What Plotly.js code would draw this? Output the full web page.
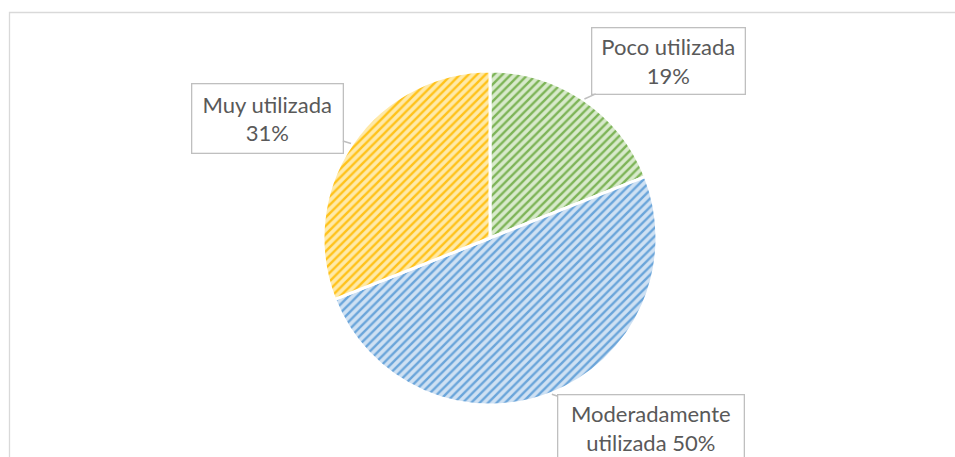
<!DOCTYPE html>
<html>
<head>
<meta charset="utf-8">
<script src="https://cdn.plot.ly/plotly-3.0.1.min.js"></script>
<style>html,body{margin:0;padding:0;background:#fff;}#chart{width:955px;height:457px;}</style>
</head>
<body>
<div id="chart"></div>
<script>
const labels = ["Poco utilizada", "Moderadamente utilizada", "Muy utilizada"];
const values = [19, 50, 31];
const boxText = ["Poco utilizada<br>19%", "Moderadamente<br>utilizada 50%", "Muy utilizada<br>31%"];
const fgColors = ["#7db457", "#6aa5da", "#ffc21a"];
const bgColors = ["#d8eacb", "#cfe1f3", "#ffeaa8"];

const W = 955, H = 457;
const cx = 490, cy = 238, R = 167;

// box centers and sizes (pixels) for the callouts
const boxCenters = [[668, 60.5], [650.5, 428], [267, 118]];
const boxSizes = [[150, 63], [183, 63], [148, 66]];

const total = values.reduce((a, b) => a + b, 0);
let cum = 0;
const annotations = values.map((v, i) => {
  const mid = (cum + v / 2) / total * 2 * Math.PI;
  cum += v;
  const tx = cx + (R + 1) * Math.sin(mid);
  const ty = cy - (R + 1) * Math.cos(mid);
  return {
    x: tx / W, y: 1 - ty / H, xref: "paper", yref: "paper",
    ax: boxCenters[i][0] - tx, ay: boxCenters[i][1] - ty,
    text: boxText[i], showarrow: true, arrowhead: 0, arrowwidth: 1.5,
    arrowcolor: "#bfbfbf", standoff: 0,
    width: boxSizes[i][0], height: boxSizes[i][1],
    bordercolor: "#bfbfbf", borderwidth: 1.3, bgcolor: "#ffffff",
    font: {family: "Lato, 'Noto Sans', sans-serif", size: 22, color: "#595959"},
    align: "center", valign: "middle"
  };
});

const trace = {
  type: "pie", labels: labels, values: values, sort: false,
  direction: "clockwise", rotation: 0, textinfo: "none", hoverinfo: "label+percent",
  domain: {x: [(cx - R) / W, (cx + R) / W], y: [1 - (cy + R) / H, 1 - (cy - R) / H]},
  marker: {
    colors: bgColors,
    line: {color: "#ffffff", width: 3},
    pattern: {shape: "/", fgcolor: fgColors, bgcolor: bgColors, size: 6, solidity: 0.4, fillmode: "replace"}
  },
  showlegend: false
};

const layout = {
  width: W, height: H, margin: {l: 0, r: 0, t: 0, b: 0},
  paper_bgcolor: "#ffffff", showlegend: false,
  annotations: annotations,
  shapes: [{type: "rect", xref: "paper", yref: "paper",
    x0: 9.5 / W, x1: 1.02, y0: -0.02, y1: 1 - 12.5 / H,
    line: {color: "#d9d9d9", width: 1.3}, fillcolor: "rgba(0,0,0,0)"}]
};

Plotly.newPlot("chart", [trace], layout, {displayModeBar: false, staticPlot: true});
</script>
</body>
</html>
